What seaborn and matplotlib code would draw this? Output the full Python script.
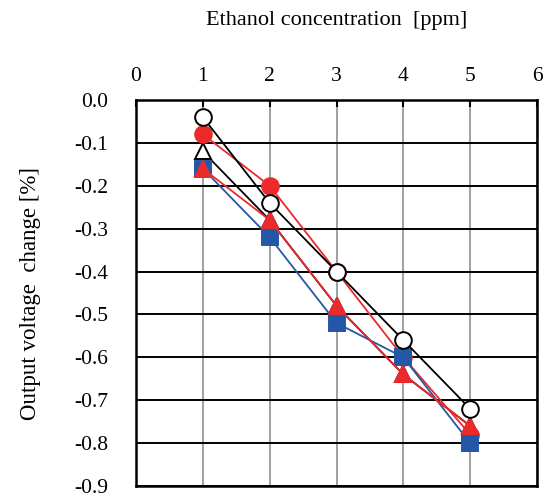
import matplotlib
matplotlib.use("Agg")
import matplotlib.pyplot as plt
import seaborn as sns
import pandas as pd

# data
conc = [1, 2, 3, 4, 5]
open_triangle = [-0.12, -0.28, -0.48, -0.64, -0.76]
red_circle = [-0.08, -0.20, -0.40, -0.60, -0.78]
blue_square = [-0.16, -0.32, -0.52, -0.60, -0.80]
red_triangle = [-0.16, -0.28, -0.48, -0.64, -0.76]
open_circle = [-0.04, -0.24, -0.40, -0.56, -0.72]

x_ticks = [0, 1, 2, 3, 4, 5, 6]
y_ticks = [0.0, -0.1, -0.2, -0.3, -0.4, -0.5, -0.6, -0.7, -0.8, -0.9]

RED = "#EC2A2C"
BLUE = "#2457A6"

sns.set_style("white")
plt.rcParams["font.family"] = ["Liberation Serif", "DejaVu Serif"]
plt.rcParams["text.color"] = "black"
plt.rcParams["axes.labelcolor"] = "black"
plt.rcParams["xtick.color"] = "black"
plt.rcParams["ytick.color"] = "black"

fig = plt.figure(figsize=(5.52, 4.98), dpi=100)
ax = fig.add_axes([136 / 552, 12 / 498, 401 / 552, 386 / 498])

# series in drawing order (later ones sit on top)
series = [
    (open_triangle, "^", "black", "white", "black"),
    (red_circle, "o", RED, RED, RED),
    (blue_square, "s", BLUE, BLUE, BLUE),
    (red_triangle, "^", RED, RED, RED),
    (open_circle, "o", "black", "white", "black"),
]
for vals, mk, lc, fc, ec in series:
    df = pd.DataFrame({"x": conc, "y": vals})
    sns.lineplot(data=df, x="x", y="y", ax=ax, color=lc, lw=1.3,
                 marker=mk, markersize=12, markerfacecolor=fc,
                 markeredgecolor=ec, markeredgewidth=1.4, legend=False)

ax.set_xlim(0, 6)
ax.set_ylim(-0.9, 0)
ax.set_xticks(x_ticks)
ax.set_xticklabels([str(v) for v in x_ticks])
ax.set_yticks(y_ticks)
ax.set_yticklabels([f"{v:.1f}" for v in y_ticks])

ax.xaxis.tick_top()
ax.xaxis.set_label_position("top")
ax.tick_params(axis="x", direction="in", length=5, width=1.5, color="black",
               labelsize=15.5, pad=10, top=True, bottom=False)
ax.tick_params(axis="y", length=0, labelsize=15.5, pad=20)

ax.grid(axis="x", color="#A0A0A0", lw=1.4)
ax.grid(axis="y", color="black", lw=1.4)
ax.set_axisbelow(True)
for s in ax.spines.values():
    s.set_color("black")
    s.set_linewidth(1.8)
    s.set_visible(True)

ax.set_xlabel("Ethanol concentration  [ppm]", fontsize=16, labelpad=30)
ax.set_ylabel("Output voltage  change [%]", fontsize=16.5, labelpad=24)

fig.savefig("out.png", dpi=100)
